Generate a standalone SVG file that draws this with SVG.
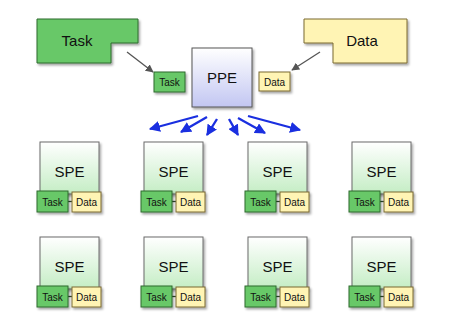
<svg xmlns="http://www.w3.org/2000/svg" width="453" height="324" viewBox="0 0 453 324">
<defs>
<style>
text{font-family:"Liberation Sans",Arial,sans-serif;fill:#111;text-anchor:middle}
.big{font-size:15px}
.sm{font-size:10px}
.task{fill:#68c868;stroke:#2f6a2f;stroke-width:1}
.data{fill:#fff4b4;stroke:#7a6a30;stroke-width:1}
.spe{fill:url(#gS);stroke:#6a6a6a;stroke-width:1}
.ppe{fill:url(#gP);stroke:#555;stroke-width:1}
.gray{stroke:#555;stroke-width:1.3;fill:none;marker-end:url(#ag)}
.blue{stroke:#1a2fe0;stroke-width:2.3;fill:none;marker-end:url(#ab)}
.link{stroke:#2f4a2f;stroke-width:1.3}
</style>
<linearGradient id="gS" x1="0" y1="0" x2="0" y2="1"><stop offset="0" stop-color="#ffffff"/><stop offset="1" stop-color="#c4edc4"/></linearGradient>
<linearGradient id="gP" x1="0" y1="0" x2="0" y2="1"><stop offset="0" stop-color="#ffffff"/><stop offset="1" stop-color="#c2c6f2"/></linearGradient>
<filter id="sh" x="-20%" y="-20%" width="140%" height="150%"><feDropShadow dx="1.5" dy="2" stdDeviation="1.2" flood-color="#000" flood-opacity="0.35"/></filter>
<marker id="ag" viewBox="0 0 10 10" refX="9" refY="5" markerWidth="8" markerHeight="8" markerUnits="userSpaceOnUse" orient="auto"><path d="M0,0 L10,5 L0,10 z" fill="#555"/></marker>
<marker id="ab" viewBox="0 0 10 10" refX="9" refY="5" markerWidth="11" markerHeight="11" markerUnits="userSpaceOnUse" orient="auto"><path d="M0,0 L10,5 L0,10 z" fill="#1a2fe0"/></marker>
<g id="speT">
<rect class="spe" x="0" y="0" width="59" height="52" filter="url(#sh)"/>
<text class="big" x="29.5" y="35">SPE</text>
<line class="link" x1="28" y1="59.5" x2="32" y2="59.5"/>
<rect class="task" x="-3" y="49" width="31" height="21" filter="url(#sh)"/>
<text class="sm" x="12.5" y="63.5">Task</text>
<rect class="data" x="32" y="50" width="29" height="20" filter="url(#sh)"/>
<text class="sm" x="46.5" y="63.5">Data</text>
</g>
</defs>

<g id="connectors">
<line class="gray" x1="127" y1="52" x2="153" y2="72"/>
<line class="gray" x1="320" y1="52" x2="292" y2="70"/>
<line class="blue" x1="198" y1="116" x2="150" y2="129"/>
<line class="blue" x1="207" y1="117" x2="181" y2="132"/>
<line class="blue" x1="217" y1="119" x2="207" y2="135"/>
<line class="blue" x1="229" y1="119" x2="238" y2="135"/>
<line class="blue" x1="238" y1="118" x2="265" y2="133"/>
<line class="blue" x1="248" y1="116" x2="300" y2="130"/>
</g>

<g id="task-big">
<polygon class="task" points="37,19 138,19 138,43 111,43 111,63 37,63" filter="url(#sh)"/>
<text class="big" x="77" y="46">Task</text>
</g>
<g id="data-big">
<polygon class="data" points="304,19 407,19 407,63 333,63 333,43 304,43" filter="url(#sh)"/>
<text class="big" x="362" y="46">Data</text>
</g>
<g id="task-small">
<rect class="task" x="154" y="72" width="31" height="20" filter="url(#sh)"/>
<text class="sm" x="169.5" y="86">Task</text>
</g>
<g id="data-small">
<rect class="data" x="259" y="72" width="31" height="19" filter="url(#sh)"/>
<text class="sm" x="274.5" y="85.5">Data</text>
</g>
<g id="ppe">
<rect class="ppe" x="192" y="48" width="60" height="59" filter="url(#sh)"/>
<text class="big" x="222" y="83">PPE</text>
</g>

<g id="spe-1-1"><use href="#speT" x="40" y="142"/></g>
<g id="spe-1-2"><use href="#speT" x="144" y="142"/></g>
<g id="spe-1-3"><use href="#speT" x="248" y="142"/></g>
<g id="spe-1-4"><use href="#speT" x="352" y="142"/></g>
<g id="spe-2-1"><use href="#speT" x="40" y="237"/></g>
<g id="spe-2-2"><use href="#speT" x="144" y="237"/></g>
<g id="spe-2-3"><use href="#speT" x="248" y="237"/></g>
<g id="spe-2-4"><use href="#speT" x="352" y="237"/></g>
</svg>
